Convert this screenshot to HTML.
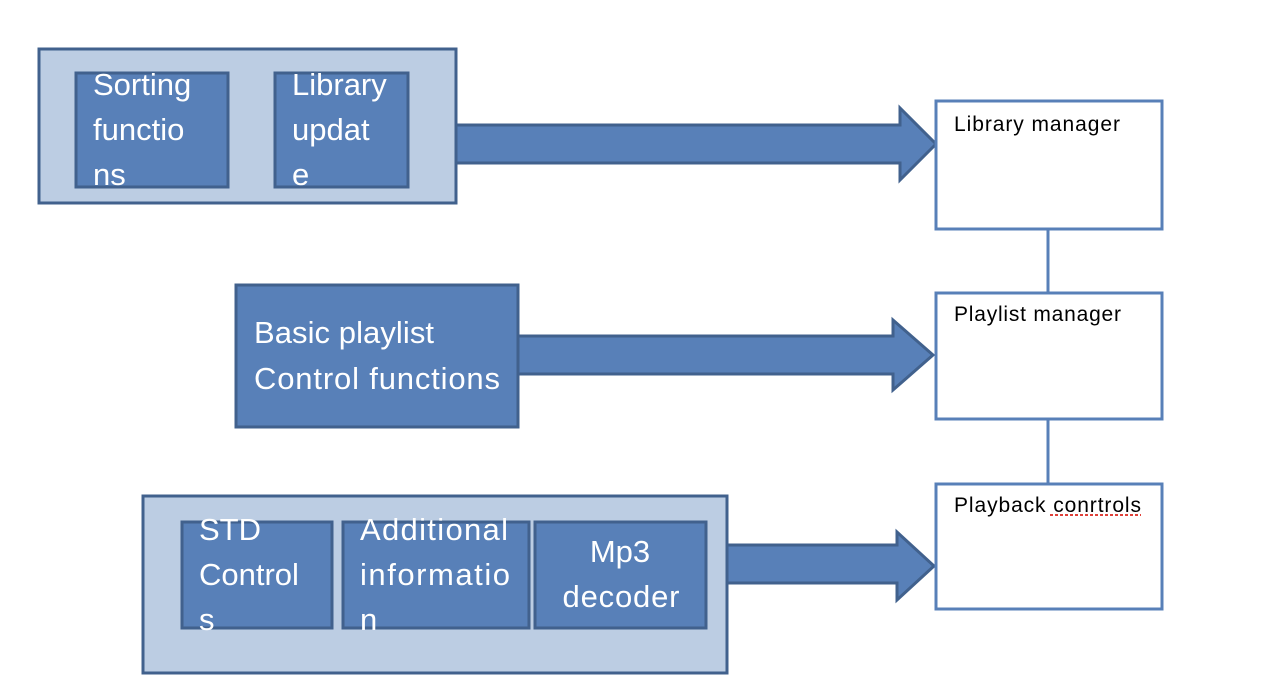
<!DOCTYPE html>
<html><head><style>body{margin:0;background:#fff}svg{display:block}</style></head><body>
<svg width="1264" height="694" xmlns="http://www.w3.org/2000/svg" font-family="Liberation Sans, sans-serif">
<g stroke="#41618d" stroke-width="3">
<rect x="39" y="49" width="417" height="154" fill="#bccde3"/>
<rect x="76" y="73" width="152" height="114" fill="#5880b8"/>
<rect x="275" y="73" width="133" height="114" fill="#5880b8"/>
<polygon points="456,125 900,125 900,108 936,144 900,180 900,163 456,163" fill="#5880b8"/>
<rect x="236" y="285" width="282" height="142" fill="#5880b8"/>
<polygon points="518,336 893,336 893,320 933,355 893,390 893,374 518,374" fill="#5880b8"/>
<rect x="143" y="496" width="584" height="177" fill="#bccde3"/>
<rect x="182" y="522" width="150" height="106" fill="#5880b8"/>
<rect x="343" y="522" width="186" height="106" fill="#5880b8"/>
<rect x="535" y="522" width="171" height="106" fill="#5880b8"/>
<polygon points="727,545 897,545 897,532 934,566 897,600 897,583 727,583" fill="#5880b8"/>
</g>
<g stroke="#5880b8" stroke-width="3" fill="#fff">
<line x1="1048" y1="229" x2="1048" y2="293"/>
<line x1="1048" y1="419" x2="1048" y2="484"/>
<rect x="936" y="101" width="226" height="128"/>
<rect x="936" y="293" width="226" height="126"/>
<rect x="936" y="484" width="226" height="125"/>
</g>
<g fill="#fff" font-size="31">
<text x="93" y="95">Sorting</text><text x="93" y="140">functio</text><text x="93" y="185">ns</text>
<text x="292" y="95">Library</text><text x="292" y="140">updat</text><text x="292" y="185">e</text>
<text x="254" y="343" textLength="180">Basic playlist</text><text x="254" y="389" textLength="246">Control functions</text>
<text x="199" y="540">STD</text><text x="199" y="585">Control</text><text x="199" y="630">s</text>
<text x="360" y="540" textLength="148">Additional</text><text x="360" y="585" textLength="150">informatio</text><text x="360" y="630">n</text>
<text x="620" y="562" text-anchor="middle">Mp3</text><text x="621" y="607" text-anchor="middle" textLength="117">decoder</text>
</g>
<g fill="#000" font-size="21">
<text x="954" y="131" textLength="166">Library manager</text>
<text x="954" y="321" textLength="167">Playlist manager</text>
<text x="954" y="512" textLength="187">Playback conrtrols</text>
</g>
<line x1="1050" y1="515" x2="1141" y2="515" stroke="#e0413a" stroke-width="2" stroke-dasharray="3,2"/>
</svg>
</body></html>
